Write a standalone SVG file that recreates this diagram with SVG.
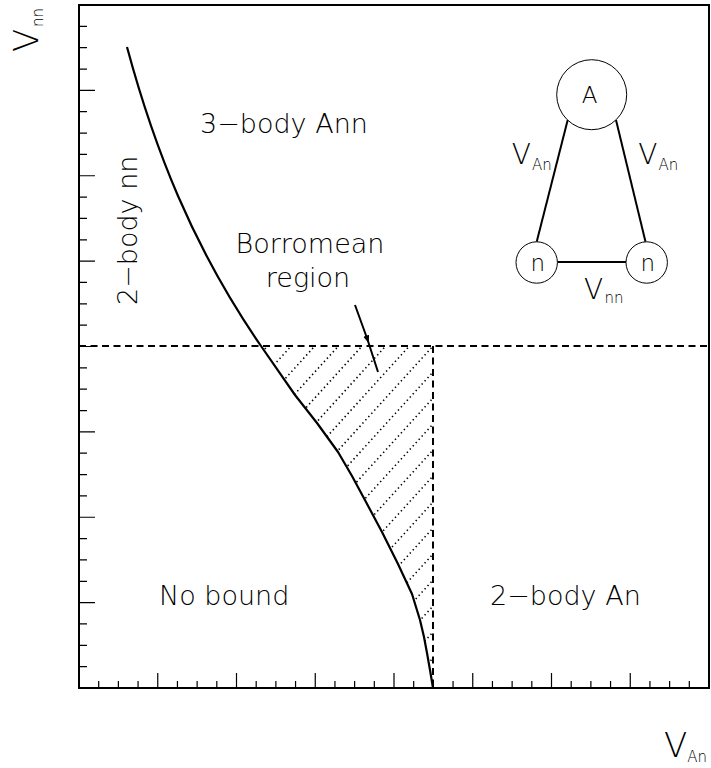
<svg xmlns="http://www.w3.org/2000/svg" width="711" height="768" viewBox="0 0 711 768">
<style>
text{font-family:"DejaVu Sans","Liberation Sans",Arial,sans-serif;font-weight:200;fill:#000}
.big{font-size:27px}
.frame{fill:none;stroke:#000;stroke-width:2}
.tick{fill:none;stroke:#000;stroke-width:1.2}
.dash{fill:none;stroke:#000;stroke-width:2;stroke-dasharray:7 4.5}
.curve{fill:none;stroke:#000;stroke-width:2.2;stroke-linejoin:round}
.hatch{fill:none;stroke:#000;stroke-width:1.6;stroke-dasharray:1.4 3}
.node{fill:#fff;stroke:#000;stroke-width:1}
.edge{stroke:#000;stroke-width:2;fill:none}
</style>
<defs>
<clipPath id="hclip">
<path d="M261,346 H433 V688 L420,620 L412,594 L398,564 L382,532 L366,502 L352,476 L338,452 L317,423 L295,395 Z"/>
</clipPath>
<marker id="mid" markerWidth="8" markerHeight="8" refX="4" refY="3" orient="auto" markerUnits="userSpaceOnUse">
<path d="M0,0 L8,3 L0,6 z" fill="#000"/>
</marker>
</defs>
<rect width="711" height="768" fill="#fff"/>
<g id="axes">
<rect class="frame" x="79" y="5" width="630" height="683"/>
<path class="tick" d="M79,666.66h8M79,645.31h8M79,623.97h8M79,602.63h16M79,581.28h8M79,559.94h8M79,538.59h8M79,517.25h16M79,495.91h8M79,474.56h8M79,453.22h8M79,431.88h16M79,410.53h8M79,389.19h8M79,367.84h8M79,346.5h16M79,325.16h8M79,303.81h8M79,282.47h8M79,261.13h16M79,239.78h8M79,218.44h8M79,197.09h8M79,175.75h16M79,154.41h8M79,133.06h8M79,111.72h8M79,90.38h16M79,69.03h8M79,47.69h8M79,26.34h8"/>
<path class="tick" d="M98.69,688v-7M118.38,688v-7M138.06,688v-7M157.75,688v-15M177.44,688v-7M197.13,688v-7M216.81,688v-7M236.5,688v-15M256.19,688v-7M275.88,688v-7M295.56,688v-7M315.25,688v-15M334.94,688v-7M354.63,688v-7M374.31,688v-7M394,688v-15M413.69,688v-7M433.38,688v-7M453.06,688v-7M472.75,688v-15M492.44,688v-7M512.13,688v-7M531.81,688v-7M551.5,688v-15M571.19,688v-7M590.88,688v-7M610.56,688v-7M630.25,688v-15M649.94,688v-7M669.63,688v-7M689.31,688v-7"/>
<text x="664" y="756.7" style="font-size:34px">V</text>
<text x="687.3" y="761.7" style="font-size:15px">An</text>
<text transform="translate(38,52) rotate(-90)" style="font-size:34px">V</text>
<text transform="translate(43,27) rotate(-90)" style="font-size:15px">nn</text>
</g>
<g id="hatch" clip-path="url(#hclip)">
<path class="hatch" d="M250,339.3L440,130.3M250,365.3L440,156.3M250,391.3L440,182.3M250,417.3L440,208.3M250,443.3L440,234.3M250,469.3L440,260.3M250,495.3L440,286.3M250,521.3L440,312.3M250,547.3L440,338.3M250,573.3L440,364.3M250,599.3L440,390.3M250,625.3L440,416.3M250,651.3L440,442.3M250,677.3L440,468.3M250,703.3L440,494.3M250,729.3L440,520.3M250,755.3L440,546.3M250,781.3L440,572.3M250,807.3L440,598.3M250,833.3L440,624.3M250,859.3L440,650.3M250,885.3L440,676.3"/>
</g>
<g id="boundaries">
<path class="dash" d="M79,346H709"/>
<path class="dash" d="M433,346V688"/>
<path class="curve" d="M127,47 C154,147 192,246 261,346 L295,395 L317,423 L338,452 L352,476 L366,502 L382,532 L398,564 L412,594 L420,620 L424,637 L427,653 L430,670 L433,688"/>
</g>
<g id="labels">
<text class="big" x="200" y="133">3−body Ann</text>
<text class="big" x="310" y="253" text-anchor="middle">Borromean</text>
<text class="big" x="308" y="287" text-anchor="middle">region</text>
<text class="big" transform="translate(137,305) rotate(-90)">2−body nn</text>
<text class="big" x="159" y="605">No bound</text>
<text class="big" x="490" y="605">2−body An</text>
<path class="edge" d="M355,305 L367.5,339.5 L378,372" marker-mid="url(#mid)"/>
</g>
<g id="connectors">
<line class="edge" x1="567.7" y1="120" x2="536.7" y2="241.8"/>
<line class="edge" x1="616" y1="120" x2="645.5" y2="241.8"/>
<line class="edge" x1="557.4" y1="262" x2="626" y2="262"/>
<text x="511.7" y="164" style="font-size:28px">V</text>
<text x="532" y="170" style="font-size:15px">An</text>
<text x="638.3" y="164" style="font-size:28px">V</text>
<text x="658.6" y="170" style="font-size:15px">An</text>
<text x="584" y="299.3" style="font-size:28px">V</text>
<text x="604.5" y="303.3" style="font-size:15px">nn</text>
</g>
<g id="nodeA">
<circle class="node" cx="591.7" cy="94.7" r="35"/>
<text x="589.5" y="103.3" text-anchor="middle" style="font-size:23px">A</text>
</g>
<g id="nodeN1">
<circle class="node" cx="536.7" cy="262.5" r="20.7"/>
<text x="537.8" y="270.7" text-anchor="middle" style="font-size:23px">n</text>
</g>
<g id="nodeN2">
<circle class="node" cx="646.7" cy="262.5" r="20.7"/>
<text x="647.8" y="270.7" text-anchor="middle" style="font-size:23px">n</text>
</g>
</svg>
